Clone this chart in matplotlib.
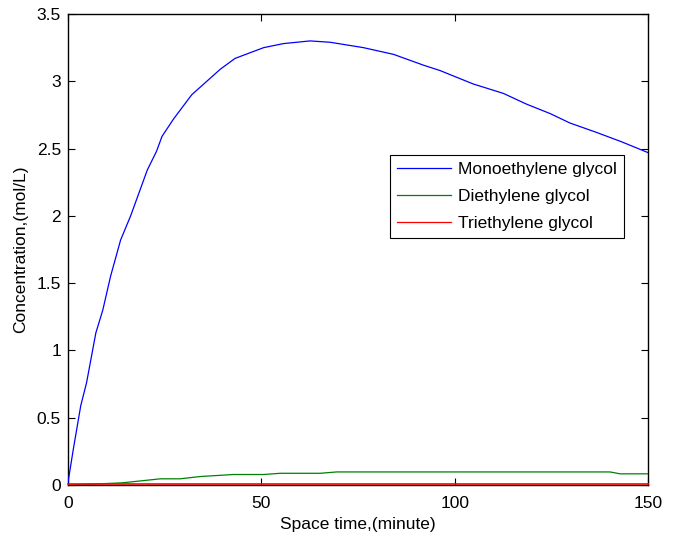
import numpy as np
import matplotlib

matplotlib.use("Agg")
import matplotlib.pyplot as plt

# Space time (minute) and concentrations (mol/L)
t_mono = [0, 1.4, 3.3, 4.8, 7.2, 9.0, 11.0, 13.6, 16.2, 20.5, 22.9, 24.3, 27.3,
          32.0, 39.4, 43.2, 50.6, 55.7, 62.6, 67.8, 76.4, 84.2, 91.9, 96.2,
          104.8, 112.6, 118.6, 124.7, 129.8, 136.7, 143.2, 150]
c_mono = [0.02, 0.27, 0.59, 0.76, 1.13, 1.30, 1.55, 1.82, 2.00, 2.34, 2.48, 2.59,
          2.72, 2.90, 3.09, 3.17, 3.25, 3.28, 3.30, 3.29, 3.25, 3.20, 3.12, 3.08,
          2.98, 2.91, 2.83, 2.76, 2.69, 2.62, 2.55, 2.47]

t_di = [0, 7.5, 14.0, 23.9, 29.0, 34.2, 42.8, 50.6, 54.9, 65.2, 69.5, 72.0,
        140.2, 142.8, 150]
c_di = [0.0, 0.008, 0.016, 0.046, 0.046, 0.063, 0.078, 0.078, 0.087, 0.087,
        0.097, 0.097, 0.097, 0.083, 0.083]

t_tri = [0, 150]
c_tri = [0.005, 0.005]

plt.rcParams["font.family"] = ["Liberation Sans", "DejaVu Sans"]
plt.rcParams["font.size"] = 12.5

fig = plt.figure(figsize=(6.75, 5.35), dpi=100)
ax = fig.add_axes([68 / 675, 1 - 485 / 535, 580 / 675, 471 / 535])

ax.plot(t_mono, c_mono, color="#0000ff", lw=0.9, zorder=3,
        label="Monoethylene glycol")
ax.plot(t_di, c_di, color="#008000", lw=0.9, zorder=3,
        label="Diethylene glycol")
ax.plot(t_tri, c_tri, color="#ff0000", lw=1.2, zorder=3, clip_on=False,
        label="Triethylene glycol")

ax.set_xlim(0, 150)
ax.set_ylim(0, 3.5)
ax.set_xticks([0, 50, 100, 150])
ax.set_yticks(np.arange(0, 3.51, 0.5))
ax.set_yticklabels(["0", "0.5", "1", "1.5", "2", "2.5", "3", "3.5"])
ax.tick_params(direction="in", top=True, right=True, length=5, width=0.8,
               labelsize=12.5)
ax.tick_params(axis="x", pad=8)
ax.tick_params(axis="y", pad=5)
for s in ax.spines.values():
    s.set_linewidth(1.0)

ax.set_xlabel("Space time,(minute)", labelpad=4)
ax.set_ylabel("Concentration,(mol/L)", labelpad=6)

leg = ax.legend(loc="upper left", bbox_to_anchor=(0.555, 0.701),
                borderaxespad=0, fancybox=False, framealpha=1,
                edgecolor="black", handlelength=3.1, handletextpad=0.4,
                borderpad=0.42, labelspacing=0.67, fontsize=12.5)
leg.get_frame().set_linewidth(0.8)
for line in leg.get_lines():
    line.set_linewidth(0.9)

fig.savefig("out.png", dpi=100)
